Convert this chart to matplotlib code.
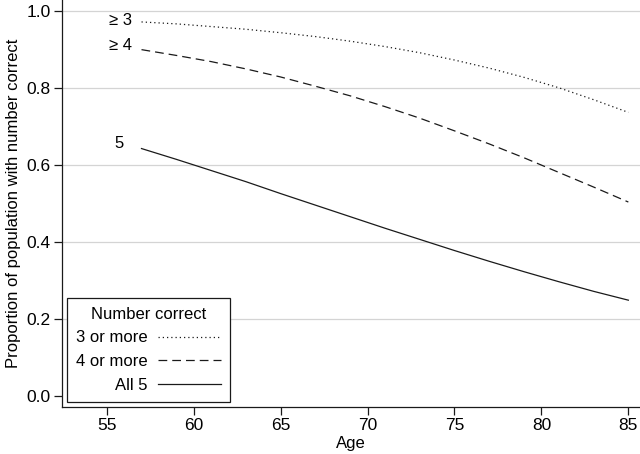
import matplotlib
matplotlib.use("Agg")
from matplotlib import pyplot as plt

plt.rcParams['font.family'] = ['Liberation Sans', 'DejaVu Sans']

# Fitted proportions
ages = [57, 59, 61, 63, 65, 67, 69, 71, 73, 75, 77, 79, 81, 83, 85]
three_or_more = [0.972, 0.967, 0.960, 0.953, 0.944, 0.934, 0.922, 0.908,
                 0.892, 0.873, 0.852, 0.828, 0.801, 0.770, 0.737]
four_or_more = [0.900, 0.885, 0.869, 0.850, 0.829, 0.805, 0.780, 0.752,
                0.722, 0.689, 0.655, 0.619, 0.581, 0.543, 0.504]
all_five = [0.643, 0.615, 0.586, 0.557, 0.526, 0.496, 0.466, 0.436,
            0.407, 0.378, 0.350, 0.323, 0.297, 0.272, 0.249]

series_names = ['3 or more', '4 or more', 'All 5']
curve_labels = ['\u2265 3', '\u2265 4', '5']
x_ticks = [55, 60, 65, 70, 75, 80, 85]
y_ticks = [0.0, 0.2, 0.4, 0.6, 0.8, 1.0]

fig = plt.figure(figsize=(6.4, 4.54), dpi=100)
ax = fig.add_axes([0.0964, 0.1035, 0.9036, 0.8965])

styles = [(0, (1, 2.4)), (0, (7, 4)), '-']
lines = []
for vals, ls, name in zip([three_or_more, four_or_more, all_five], styles, series_names):
    ln, = ax.plot(ages, vals, color='#1a1a1a', lw=0.9, linestyle=ls, label=name)
    lines.append(ln)

# labels at the left end of each curve
offsets = [(0.55, 0.004), (0.55, 0.010), (1.0, 0.014)]
for vals, txt, (dx, dy) in zip([three_or_more, four_or_more, all_five], curve_labels, offsets):
    ax.text(ages[0] - dx, vals[0] + dy, txt, ha='right', va='center', fontsize=12)

ax.set_xlim(52.41, 85.67)
ax.set_ylim(-0.0286, 1.029)
ax.set_xticks(x_ticks)
ax.set_yticks(y_ticks)
ax.set_yticklabels([f"{v:.1f}" for v in y_ticks])
for v in y_ticks[1:]:
    ax.axhline(v, color='#d4d4d4', lw=0.9, zorder=0)

for s in ['top', 'right']:
    ax.spines[s].set_visible(False)
for s in ['left', 'bottom']:
    ax.spines[s].set_linewidth(0.9)
    ax.spines[s].set_color('#1a1a1a')
ax.tick_params(direction='out', length=5.5, width=0.9, labelsize=12.5, pad=2.5, color='#1a1a1a')

ax.set_xlabel('Age', fontsize=12, labelpad=2)
ax.set_ylabel('Proportion of population with number correct', fontsize=12, labelpad=4)

leg = ax.legend(handles=lines, title='Number correct', markerfirst=False,
                loc='lower left', bbox_to_anchor=(67 / 640, (454 - 402) / 454),
                bbox_transform=fig.transFigure, fontsize=12, title_fontsize=12,
                handlelength=3.8, handletextpad=0.6, labelspacing=0.52,
                borderpad=0.55, borderaxespad=0, fancybox=False, framealpha=1)
leg.get_frame().set_edgecolor('#1a1a1a')
leg.get_frame().set_linewidth(0.9)

fig.savefig('out.png', dpi=100)
